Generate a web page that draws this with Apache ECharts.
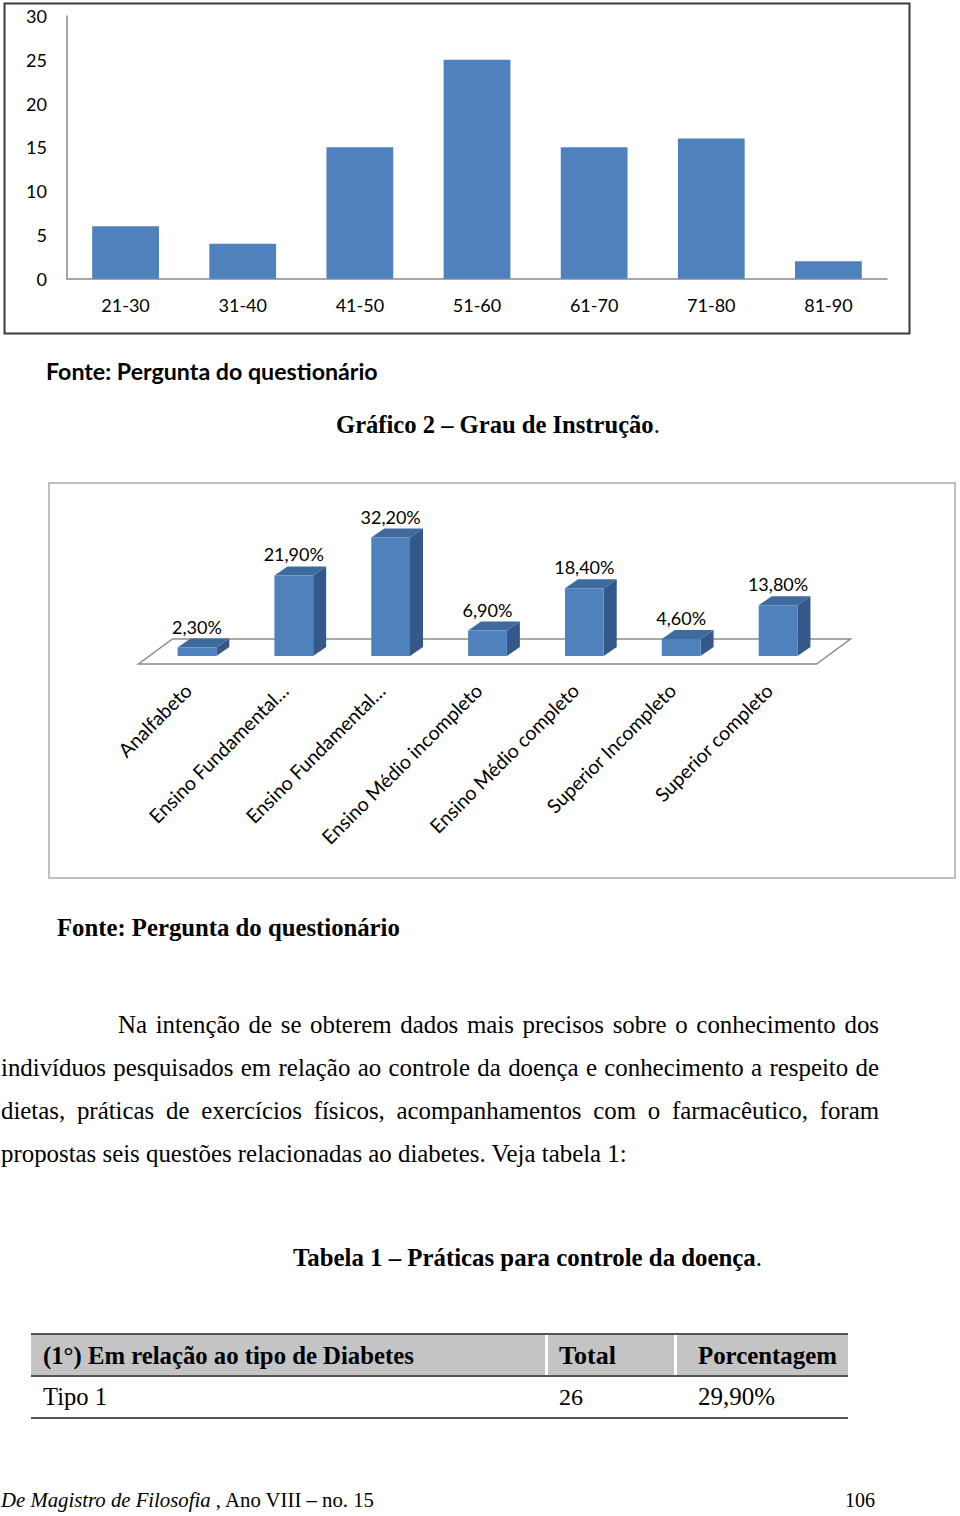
<!DOCTYPE html>
<html>
<head>
<meta charset="utf-8">
<script src="https://cdn.jsdelivr.net/npm/echarts/dist/echarts.min.js"></script>
<style>
  html, body { margin: 0; padding: 0; background: #fff; }
  body { width: 960px; height: 1516px; position: relative; overflow: hidden; }
  .t { position: absolute; white-space: nowrap; height: 40px; line-height: 40px; color: #000; }
  .serif { font-family: 'Liberation Serif', 'Times New Roman', serif; }
  .sans { font-family: Lato, 'Open Sans', sans-serif; }
  .b { font-weight: bold; }
  .n { font-weight: normal; }
  .j { text-align: justify; text-align-last: justify; white-space: normal; overflow: hidden; }
  .rule { position: absolute; background: #555; height: 2px; }
  .cell { position: absolute; background: #c4c4c4; }
</style>
</head>
<body>
<div id="chart1" style="position:absolute;left:0;top:0;width:960px;height:340px;"></div>
<div class="t sans b" id="fonte1" data-w="332" style="left:46px;top:351px;">Fonte: Pergunta do questionário</div>
<div class="t serif b" id="graf2" data-w="324" style="left:336px;top:405px;">Gráfico 2 – Grau de Instrução<span class="n">.</span></div>
<div id="chart2" style="position:absolute;left:0;top:480px;width:960px;height:410px;"></div>
<div class="t serif b" id="fonte2" data-w="343" style="left:57px;top:908px;">Fonte: Pergunta do questionário</div>

<div class="t serif j" id="p1" style="left:118px;top:1005px;width:761px;">Na intenção de se obterem dados mais precisos sobre o conhecimento dos</div>
<div class="t serif j" id="p2" style="left:1px;top:1048px;width:878px;">indivíduos pesquisados em relação ao controle da doença e conhecimento a respeito de</div>
<div class="t serif j" id="p3" style="left:1px;top:1091px;width:878px;">dietas, práticas de exercícios físicos, acompanhamentos com o farmacêutico, foram</div>
<div class="t serif" id="p4" data-w="626" style="left:1px;top:1134px;">propostas seis questões relacionadas ao diabetes. Veja tabela 1:</div>

<div class="t serif b" id="tab1" data-w="469" style="left:293px;top:1238px;">Tabela 1 – Práticas para controle da doença<span class="n">.</span></div>

<div class="rule" style="left:31px;top:1333px;width:817px;"></div>
<div class="cell" style="left:31px;top:1335px;width:514px;height:40px;"></div>
<div class="cell" style="left:548px;top:1335px;width:126px;height:40px;"></div>
<div class="cell" style="left:677px;top:1335px;width:171px;height:40px;"></div>
<div class="rule" style="left:31px;top:1375px;width:817px;"></div>
<div class="rule" style="left:31px;top:1417px;width:817px;"></div>
<div class="t serif b" id="h1" data-w="371" style="left:43px;top:1336px;">(1°) Em relação ao tipo de Diabetes</div>
<div class="t serif b" id="h2" data-w="57" style="left:559px;top:1336px;">Total</div>
<div class="t serif b" id="h3" data-w="139" style="left:698px;top:1336px;">Porcentagem</div>
<div class="t serif" id="r1" data-w="64" style="left:43px;top:1377px;">Tipo 1</div>
<div class="t serif" id="r2" data-w="24" style="left:559px;top:1377px;">26</div>
<div class="t serif" id="r3" data-w="77" style="left:698px;top:1377px;">29,90%</div>

<div class="t serif" id="foot" data-w="373" style="left:1px;top:1480px;"><i>De Magistro de Filosofia</i> , Ano VIII – no. 15</div>
<div class="t serif" id="page" data-w="30" style="left:845px;top:1480px;">106</div>

<script>
// ---------- Data ----------
const ageCats = ['21-30', '31-40', '41-50', '51-60', '61-70', '71-80', '81-90'];
const ageVals = [6, 4, 15, 25, 15, 16, 2];
const ageTicks = [0, 5, 10, 15, 20, 25, 30];

const eduCats = ['Analfabeto', 'Ensino Fundamental…', 'Ensino Fundamental…', 'Ensino Médio incompleto', 'Ensino Médio completo', 'Superior Incompleto', 'Superior completo'];
const eduVals = [2.3, 21.9, 32.2, 6.9, 18.4, 4.6, 13.8];

// ---------- Text fitting ----------
function fit(el, w) {
  el.style.fontSize = '20px';
  const r = el.getBoundingClientRect().width;
  const s = 20 * w / r;
  el.style.fontSize = s + 'px';
  return s;
}
document.querySelectorAll('[data-w]').forEach(el => fit(el, +el.dataset.w));
const ps = parseFloat(document.getElementById('p4').style.fontSize);
['p1', 'p2', 'p3'].forEach(id => document.getElementById(id).style.fontSize = ps + 'px');

// ---------- Chart 1 ----------
const FONT = 'Lato, "Open Sans", sans-serif';
const c1 = echarts.init(document.getElementById('chart1'), null, { renderer: 'svg' });
c1.setOption({
  animation: false,
  grid: { left: 67, right: 73, top: 16, bottom: 61.3 },
  graphic: [{
    type: 'rect', shape: { x: 4.5, y: 3.5, width: 905, height: 330 },
    style: { fill: 'none', stroke: '#3a3a3a', lineWidth: 2 }, silent: true
  }],
  xAxis: {
    type: 'category', data: ageCats,
    axisLine: { lineStyle: { color: '#8a8a8a', width: 1.5 } },
    axisTick: { show: false },
    axisLabel: { color: '#000', fontSize: 18, fontFamily: FONT, margin: 17 }
  },
  yAxis: {
    type: 'value', min: ageTicks[0], max: ageTicks[ageTicks.length - 1], interval: 5,
    axisLine: { show: true, lineStyle: { color: '#8a8a8a', width: 1.5 } },
    axisTick: { show: false },
    splitLine: { show: false },
    axisLabel: { color: '#000', fontSize: 18, fontFamily: FONT, margin: 20 }
  },
  series: [{
    type: 'bar', data: ageVals, barCategoryGap: '43%',
    itemStyle: { color: '#4F81BD' }
  }]
});

// ---------- Chart 2 (3D-style bars) ----------
const DX = 13, DY = -9;
const c2 = echarts.init(document.getElementById('chart2'), null, { renderer: 'svg' });
c2.setOption({
  animation: false,
  grid: { left: 148.5, right: 133.5, top: 28.8, bottom: 234 },
  graphic: [{
    type: 'rect', shape: { x: 49, y: 3, width: 906, height: 395 },
    style: { fill: 'none', stroke: '#c0c0c0', lineWidth: 2 }, silent: true, z: -10
  }],
  xAxis: { type: 'category', data: eduCats, show: false },
  yAxis: { type: 'value', min: 0, max: 40, show: false },
  series: [{
    type: 'custom',
    data: eduVals.map((v, i) => [i, v]),
    renderItem: function (params, api) {
      const i = api.value(0), v = api.value(1);
      const top = api.coord([i, v]);
      const base = api.coord([i, 0]);
      const band = api.size([1, 0])[0];
      const w = band * 0.4;
      const x0 = base[0] - w / 2, x1 = base[0] + w / 2;
      const yT = top[1], yB = base[1];
      const ch = [];
      if (params.dataIndex === 0) {
        const cs = params.coordSys;
        const L = cs.x, R = cs.x + cs.width;
        ch.push({
          type: 'polygon',
          shape: { points: [[L - 10, yB + 8], [R - 10, yB + 8], [R + 24, yB - 17], [L + 24, yB - 17]] },
          style: { fill: '#fff', stroke: '#8c8c8c', lineWidth: 1.5 }
        });
      }
      ch.push({
        type: 'polygon',
        shape: { points: [[x1, yT], [x1 + DX, yT + DY], [x1 + DX, yB + DY], [x1, yB]] },
        style: { fill: '#35588A' }
      });
      ch.push({
        type: 'polygon',
        shape: { points: [[x0, yT], [x0 + DX, yT + DY], [x1 + DX, yT + DY], [x1, yT]] },
        style: { fill: '#3F6A9E' }
      });
      ch.push({
        type: 'rect',
        shape: { x: x0, y: yT, width: w, height: yB - yT },
        style: { fill: '#4F81BD' }
      });
      ch.push({
        type: 'text',
        x: base[0], y: yT + DY - 3,
        style: {
          text: v.toFixed(2).replace('.', ',') + '%',
          align: 'center', verticalAlign: 'bottom',
          fill: '#000', fontSize: 18, fontFamily: FONT
        }
      });
      ch.push({
        type: 'text',
        x: base[0] - 9, y: yB + 31,
        rotation: Math.PI / 4,
        style: {
          text: eduCats[params.dataIndex],
          align: 'right', verticalAlign: 'middle',
          fill: '#000', fontSize: 19.5, fontFamily: FONT
        }
      });
      return { type: 'group', children: ch };
    }
  }]
});
</script>
</body>
</html>
